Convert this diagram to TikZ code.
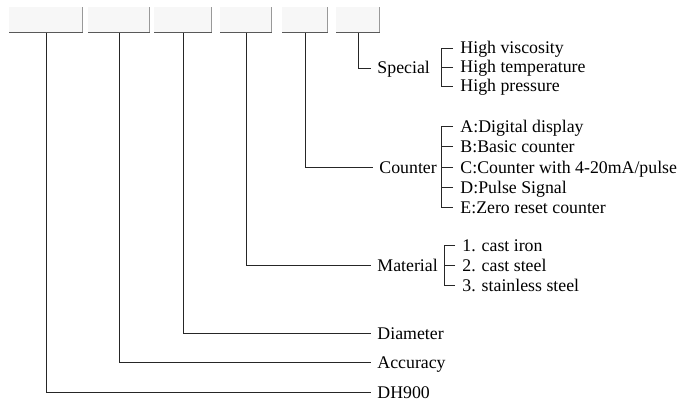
\documentclass[tikz,border=0pt]{standalone}
\usepackage{fontspec}
\setmainfont{Liberation Serif}
\begin{document}
\begin{tikzpicture}[x=1pt,y=-1pt,
  line width=0.9pt,
  conn/.style={draw=black!85},
  codebox/.style={fill=black!3, draw=none, minimum height=25pt, anchor=north west, inner sep=0pt},
  lbl/.style={anchor=west, inner xsep=6pt, inner ysep=0pt, text height=12pt, text depth=0pt, font=\fontsize{17.8}{20}\selectfont},
  item/.style={anchor=west, inner xsep=7pt, inner ysep=0pt, text height=12pt, text depth=0pt, font=\fontsize{17.8}{20}\selectfont}]
\useasboundingbox (0,0) rectangle (684,401);
% code boxes
\node[codebox, minimum width=73pt] (b1) at (9,7) {};
\node[codebox, minimum width=61pt] (b2) at (88,7) {};
\node[codebox, minimum width=57pt] (b3) at (154,7) {};
\node[codebox, minimum width=51pt] (b4) at (220,7) {};
\node[codebox, minimum width=45pt] (b5) at (282,7) {};
\node[codebox, minimum width=43pt] (b6) at (336,7) {};
\foreach \b in {b1,b2,b3,b4,b5,b6}{
  \draw[black!40] (\b.south east) -- (\b.north east);
  \draw[black!65] (\b.south west) -- (\b.south east);
}
% labels
\node[lbl] (special) at (371,68) {Special};
\node[lbl] (counter) at (373,167) {Counter};
\node[lbl] (material) at (371,265) {Material};
\node[lbl] (diameter) at (371,333) {Diameter};
\node[lbl] (accuracy) at (371,362) {Accuracy};
\node[lbl] (dh) at (371,392) {DH900};
% connectors
\draw[conn] (b6.south) |- (special.west);
\draw[conn] (b5.south) |- (counter.west);
\draw[conn] (b4.south) |- (material.west);
\draw[conn] (b3.south) |- (diameter.west);
\draw[conn] (b2.south) |- (accuracy.west);
\draw[conn] (b1.south) |- (dh.west);
% special items
\node[item] (s1) at (453,48) {High viscosity};
\node[item] (s2) at (453,67) {High temperature};
\node[item] (s3) at (453,86) {High pressure};
\draw[conn] (s1.west) -- ++(-12,0) |- (s3.west);
\draw[conn] (s2.west) -- ++(-12,0);
% counter items
\node[item] (c1) at (453,126) {A:Digital display};
\node[item] (c2) at (453,146.5) {B:Basic counter};
\node[item] (c3) at (453,167) {C:Counter with 4-20mA/pulse};
\node[item] (c4) at (453,187) {D:Pulse Signal};
\node[item] (c5) at (453,207) {E:Zero reset counter};
\draw[conn] (c1.west) -- ++(-12,0) |- (c5.west);
\foreach \c in {c2,c3,c4} \draw[conn] (\c.west) -- ++(-12,0);
% material items
\node[item] (m1) at (455,245) {1. cast iron};
\node[item] (m2) at (455,265) {2. cast steel};
\node[item] (m3) at (455,285) {3. stainless steel};
\draw[conn] (m1.west) -- ++(-11,0) |- (m3.west);
\draw[conn] (m2.west) -- ++(-11,0);
\end{tikzpicture}
\end{document}
